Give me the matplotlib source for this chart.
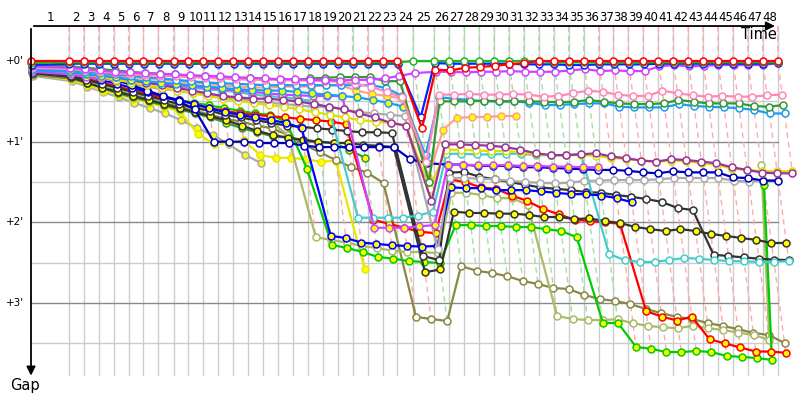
import numpy as np
import matplotlib
matplotlib.use("Agg")
import matplotlib.pyplot as plt

# leader lap times in seconds, laps 1..48
lap_times = [216, 85, 85, 86, 84, 85, 85, 86, 85, 84, 85, 86, 85, 85, 86, 84, 86, 85, 84, 85, 86, 85, 85, 90,
             120, 85, 86, 85, 85, 84, 85, 86, 85, 85, 86, 85, 84, 85, 85, 86, 85, 85, 84, 85, 86, 84, 85, 86]

# laps whose lap line is drawn green (others pink)
green_laps = [17, 20, 24, 25, 26, 27, 28, 29, 30, 31, 32, 33, 34, 35]

# gap to leader in seconds, one value per lap starting at lap 0 (the start)
red_1 = [0, 0, 0, 0, 0, 0, 0, 0, 0, 0, 0, 0, 0, 0, 0, 0, 0, 0, 0, 0, 0, 0, 0, 0, 50, 6.5, 7, 5, 4.5, 3.5, 2.5, 1.5,
         0, 0, 0, 0, 0, 0, 0, 0, 0, 0, 0, 0, 0, 0, 0, 0, 0]
green_1 = [1.5, 1, 1, 1, 1, 1, 1, 1, 1, 1, 1, 1, 1, 1, 1, 1, 1, 1, 1, 1, 1, 1, 1, 1, 0, 0, 0, 0, 0, 0, 0, 0, 0,
           1, 1, 1, 1, 1, 1, 1, 1, 1, 1, 1, 1, 1, 1, 1, 1]
blue_1 = [3, 2, 2, 2, 2, 2, 2, 2, 2, 2, 2, 2, 2, 2, 2, 2, 2, 2, 2, 2, 2, 2, 2, 2, 42, 1.5,
          2, 2, 2, 2, 2, 2.5, 2.5, 2.5, 3, 3, 2.5, 2.5, 2.5, 2.5, 2, 2, 2, 2, 2, 2, 2, 2, 1.5]
magenta_1 = [4, 5, 6, 7, 8, 8.5, 9, 9.5, 10, 10.5, 11, 11.5, 12, 12.5, 13,
             13.5, 13.5, 14, 14, 14.5, 14, 14, 13, 11, 9, 8, 8, 8.5, 8, 8, 7.5, 8,
             8, 8, 7, 6, 7.5, 7, 7.5, 7.5, 4, 3, 4, 3.5, 3, 3, 3, 3, 1.5]
pink_1 = [5, 6, 7, 8, 9, 10, 10.5, 11, 11.5, 12, 12.5, 13, 13.5, 14, 14,
          14, 14.5, 14.5, 15, 15.5, 17, 19, 23, 27, 75, 25, 25, 24.5, 25, 25, 24.5, 25,
          26.5, 26, 24, 22, 23, 25, 26, 26, 22, 24, 25.5, 26.5, 26, 26.5, 26.5, 25.5, 25]
dgreen_1 = [3, 4, 5, 6, 7, 8, 9, 9.5, 10, 11, 11.5, 12, 12.5, 13, 13.5,
            14, 14, 13, 12.5, 12, 12, 12, 15, 15, 90, 30, 30, 30, 29.5, 30, 30, 30,
            30.3, 30.7, 30.3, 29, 30.3, 31.5, 32, 32, 31.5, 29, 30.3, 31.5, 31.5, 31.5, 33.5, 34, 32.7]
dodger_1 = [6, 7, 8, 9, 10, 11, 12, 13, 14, 15, 16, 16.5, 17, 17.5, 18,
            18, 18, 18, 18, 18, 18, 18, 20, 26, 70, 27, 28, 29, 30, 30, 30, 31,
            32.7, 32.7, 32, 31.5, 31.5, 34, 34.5, 34.5, 34.5, 32, 33.5, 34, 34.5, 35, 36.4, 39, 39]
dodger_2 = [7, 8, 10, 11, 12, 14, 15, 16, 17, 18, 19, 20, 21, 21.5, 22,
            22, 23, 24, 25, 26, 27, 29, 31, 34]
pink_2 = [6, 7, 9, 10, 11, 12, 13, 14, 15, 16, 17, 18, 19, 19.5, 20,
          19, 19, 19, 18, 18, 22, 24.5, 26, 28, 86, 51, 42.4, 41.6, 41.6, 40.9, 40.9]
magenta_2 = [8, 10, 12, 13, 14, 15, 16, 17, 18, 19, 20, 21, 22, 23, 24,
             25, 25.5, 26, 26, 26, 124, 124, 124, 123, 122,
             77, 77, 77.5, 77.5, 77.5, 78, 78, 78.5, 78.5, 79, 79]
teal_1 = [5, 7, 9, 11, 13, 15, 16, 17, 19, 20, 21, 22, 23, 25, 26,
          27, 28, 30, 36, 116.5, 116.5, 116.5, 116.5, 115, 112,
          69, 69, 69.5, 69.5, 69, 69, 70, 70, 70, 69,
          143.5, 148, 149.4, 149.4, 148, 146.5, 147, 148, 148.7, 149, 149.4, 149.4, 148.7]
dpurple_1 = [5, 6, 8, 10, 12, 14, 16, 18, 20, 22, 24, 26, 27, 28, 28,
             29, 30, 32, 34, 36, 39, 42, 46, 48, 104, 62, 62, 62.5, 63, 64, 66,
             68.6, 70, 70, 69.4, 68.6, 71, 72.3, 74, 74.8, 73, 73.6, 74.8, 76, 79, 81, 83, 83.5, 83.5]
gray_1 = [7, 9, 11, 13, 15, 17, 19, 21, 22, 24, 25, 27, 28, 30, 31,
          32, 33, 34, 34, 36, 38, 39, 40, 41, 140, 87, 87, 87.5, 88, 89, 90,
          90.5, 91, 90.5, 89, 89, 88.5, 88.5, 88.5, 88, 87, 87, 87, 87, 89, 89.7, 88.5, 88.5]
yellow_1 = [6, 8, 10, 12, 14, 16, 18, 20, 22, 24, 26, 28, 30, 31, 33,
            34, 36, 38, 40, 42, 44, 45, 46, 48, 95,
            66, 66, 66.5, 67, 67, 68, 69.5, 70, 70, 70, 70.5, 72, 73, 74, 75, 74, 74.5, 76, 77, 80, 81, 82, 82, 82]
red_2 = [8, 10, 13, 16, 19, 22, 25, 27, 29, 32, 35, 37, 39, 40, 41,
         42, 43, 44, 45, 47, 118, 121, 124, 127, 128,
         88, 90, 94, 95, 100, 104, 110, 114, 118, 119, 120, 121,
         186, 190, 193, 190, 207, 210, 213, 216, 216, 217]
lime_2 = [9, 11, 14, 17, 19, 22, 24, 27, 29, 31, 33, 35, 37, 39, 40,
          45, 80, 136.8, 139, 142, 145.7, 147, 148.7, 149.4, 150.2,
          122, 122, 122.7, 122.7, 123.4, 123.4, 125, 126.4, 131,
          194.8, 194.8, 212.6, 214, 216.4, 216.4, 215.6, 216.4, 219.3, 220, 220.8, 222.3, 92.2]
blue_2 = [6, 8, 11, 14, 17, 20, 23, 26, 29, 32, 35, 38, 40, 42, 44,
          46, 50, 130, 131.6, 135, 136, 137, 137.5, 138, 137.5,
          94, 94.5, 94.5, 96, 96, 96, 97, 98, 99, 99, 100, 102, 105]
lolive_1 = [9, 12, 15, 18, 21, 24, 27, 30, 32, 34, 36, 38, 40, 43, 45,
            55, 131, 133, 135, 137.5, 139, 141, 142, 142, 143,
            98, 98, 99.6, 102, 102, 107,
            189.6, 191.8, 192.6, 192.6, 192, 195, 197, 198, 198.7, 196.8, 198.7, 200, 202, 203.7, 207.4, 77.3]
black_1 = [8, 11, 14, 17, 20, 23, 26, 29, 32, 35, 37, 40, 42, 44, 46,
           48, 49, 50, 51, 52, 53, 53, 53.5, 145, 148,
           83, 82.5, 86, 88, 90, 92, 94, 95, 96,
           97.4, 98, 99.6, 101, 102.6, 104.8, 109.3, 110.8, 144, 145, 146, 147, 147.7, 148]
olive_1 = [10, 13, 16, 19, 22, 25, 28, 31, 34, 37, 40, 43, 45, 48, 50,
           55, 62, 68, 73.6, 79, 83, 90.7, 190.3, 191.8, 193.3,
           152.4, 156, 157.6, 160, 163.6,
           165.8, 168.8, 169.5, 174, 177, 178.4, 180.7, 184.4, 187.4, 190.3, 191.8, 194.8, 197, 199.3, 202.2,
           203.7, 209.7]
black_2 = [9, 12, 16, 20, 23, 26, 29, 32, 35, 38, 41, 44, 48, 52, 55,
           57, 58.7, 60, 61, 61, 62.5, 63, 64, 157, 155,
           112, 113, 113, 113.5, 113.5,
           114.5, 116, 116, 117.5, 117, 119, 120.4, 123.4, 125, 126.4, 125, 126.4, 128.6, 130, 131.6, 133,
           135.3, 135.3]
dgreen_2 = [10, 13, 16, 20, 24, 27, 30, 33, 36, 39, 42, 46, 50, 53, 56,
            57, 58.7, 60, 61, 66, 72]
navy_1 = [4, 6, 8, 11, 14, 18, 22, 26, 30, 36, 60, 60, 60, 61, 61,
          61, 63, 64, 64, 64, 64, 64, 64, 73, 76,
          77, 77, 78, 78, 78, 79,
          79, 79.5, 80, 80.5, 81, 81, 81.6, 82.8, 83.5, 82, 82.8, 82.8, 82.8, 86.6, 87, 89, 89]
yellow_2 = [10, 14, 18, 22, 25, 28, 31, 34, 38, 54, 62, 61, 59, 70, 72,
            72, 73, 75, 74, 155]
gray_2 = [11, 15, 19, 23, 27, 31, 35, 39, 44, 50, 55, 62, 70, 76]

WHITE = "white"
YEL = "#ffff00"
# drawn from the back of the field to the front
drivers = [
    (gray_2, "#aaaaaa", YEL), (yellow_2, "#e6e600", YEL), (dgreen_2, "#339933", YEL),
    (olive_1, "#888844", WHITE), (lolive_1, "#aabb66", WHITE), (lime_2, "#00cc00", YEL),
    (red_2, "#ff0000", YEL), (black_2, "#333333", YEL), (black_1, "#333333", WHITE),
    (teal_1, "#44cccc", WHITE), (blue_2, "#0000ff", YEL), (gray_1, "#aaaaaa", WHITE),
    (navy_1, "#0000bb", WHITE), (magenta_2, "#cc44ff", YEL), (yellow_1, "#dddd00", WHITE),
    (dpurple_1, "#993399", WHITE), (pink_2, "#ffa08a", YEL), (dodger_2, "#1a9cf0", YEL),
    (dodger_1, "#1a9cf0", WHITE), (dgreen_1, "#339933", WHITE), (pink_1, "#ff88bb", WHITE),
    (magenta_1, "#cc44ff", WHITE), (blue_1, "#0022ff", WHITE), (green_1, "#22b422", WHITE),
    (red_1, "#ff0000", WHITE),
]

T = np.concatenate([[0], np.cumsum(lap_times)])
n_laps = len(lap_times)

fig = plt.figure(figsize=(8, 4), dpi=100)
ax = fig.add_axes([0, 0, 1, 1])
ax.axis("off")
# 0.1755 px per second of race time, 1.345 px per second of gap
ax.set_xlim(-31 / 0.1755, 769 / 0.1755)
ax.set_ylim(339 / 1.345, -61 / 1.345)

top = -26.0
bottom = 233.5
# grid
for n in range(1, n_laps + 1):
    ax.plot([T[n], T[n]], [top, bottom], color="#cccccc", lw=1, zorder=1)
for g in [30, 90, 150, 210]:
    ax.plot([0, T[-1]], [g, g], color="#cccccc", lw=1, zorder=1)
for g in [0, 60, 120, 180]:
    ax.plot([0, T[-1]], [g, g], color="#888888", lw=1, zorder=1)

# lap lines: every car's crossing of lap n lies on x = T[n] + gap
for n in range(1, n_laps + 1):
    gaps = [d[0][n] for d in drivers if len(d[0]) > n]
    gmax = max(gaps)
    col = "#9ee09e" if n in green_laps else "#ffaaaa"
    ax.plot([T[n], T[n], T[n] + gmax], [top, 0, gmax], color=col, lw=1,
            ls=(0, (4, 3)), zorder=2)

for gaps, col, face in drivers:
    g = np.array(gaps, dtype=float)
    x = T[:len(g)] + g
    ax.plot(x, g, "-o", color=col, lw=1.6, ms=5, mfc=face, mec=col, mew=1.1, zorder=3)

# axes with arrows
ax.annotate("", xy=(T[-1], top), xytext=(0, top),
            arrowprops=dict(arrowstyle="-|>", color="black", lw=1.3, mutation_scale=13), zorder=10)
ax.annotate("", xy=(0, 236), xytext=(0, top),
            arrowprops=dict(arrowstyle="-|>", color="black", lw=1.3, mutation_scale=13), zorder=10)

for n in range(1, n_laps + 1):
    ax.text((T[n - 1] + T[n]) / 2, -32.7, str(n), ha="center", va="center", fontsize=8.5)
for m in range(4):
    ax.text(-40, m * 60, "+%d'" % m, ha="right", va="center", fontsize=7.5)
ax.text(T[-1] - 5, -19.5, "Time", ha="right", va="center", fontsize=10.5)
ax.text(-34, 241, "Gap", ha="center", va="center", fontsize=10.5)

plt.savefig("out.png", dpi=100)
